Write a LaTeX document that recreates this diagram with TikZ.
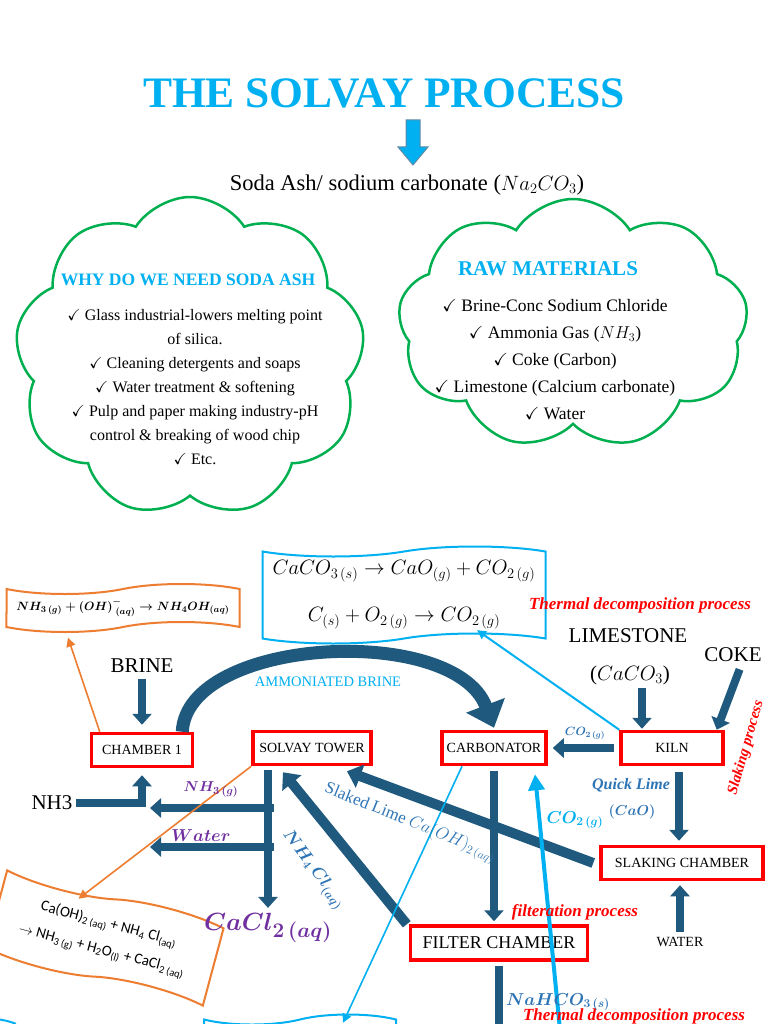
\documentclass[tikz,border=0pt]{standalone}
\usepackage{amssymb}
\usepackage{amsmath}
\usepackage{fontspec}
\setmainfont{Liberation Serif}
\newfontfamily\carlito{Carlito}
\usepackage{tikz}
\usetikzlibrary{positioning, shapes.symbols, arrows.meta}

\definecolor{skyblue}{HTML}{00B0F0}
\definecolor{deepblue}{HTML}{1F5A7E}
\definecolor{labelblue}{HTML}{2E75B6}
\definecolor{leafgreen}{HTML}{00B050}
\definecolor{plum}{HTML}{7030A0}
\definecolor{tangerine}{HTML}{ED7D31}

\begin{document}
\begin{tikzpicture}[x=1pt, y=-1pt,
    unit/.style={draw=red, line width=3.5pt, minimum height=33pt, inner sep=2pt, font=\fontsize{14}{16}\selectfont},
    flow/.style={draw=deepblue, line width=8pt, -{Triangle[width=19pt,length=11pt]}},
    wideflow/.style={flow, line width=10pt, -{Triangle[width=24pt,length=14pt]}},
    feed/.style={font=\fontsize{21}{24}\selectfont},
    note/.style={text=red, font=\fontsize{17}{19}\selectfont\bfseries\itshape},
    tag/.style={text=labelblue, font=\fontsize{14}{16}\selectfont\boldmath},
    puff/.style={cloud, cloud puffs=9, cloud puff arc=115, cloud ignores aspect, draw=leafgreen, line width=2.5pt},
    scroll/.style={tape, line width=2pt, tape bend height=10pt, inner sep=4pt}]
        \clip (0,0) rectangle (768,1024);
        \fill[white] (0,0) rectangle (768,1024);

        % Heading
        \node (title) [text=skyblue, font=\fontsize{43.5}{48}\selectfont\bfseries] at (384,93) {THE SOLVAY PROCESS};
        \node (soda) [font=\fontsize{22.5}{26}\selectfont] at (407,185) {Soda Ash/ sodium carbonate ($Na_2CO_3$)};
        \filldraw[fill=skyblue, draw=deepblue!70, line width=1pt] (406,120) -- (420,120) -- (420,147) -- (428,147) -- (413,165) -- (398,147) -- (406,147) -- cycle;

        % Clouds
        \node (whycloud) [puff, minimum width=350pt, minimum height=320pt] at (190,357) {};
        \node (whyhead) [text=skyblue, font=\fontsize{17.5}{20}\selectfont\bfseries] at (188,280) {WHY DO WE NEED SODA ASH};
        \node (whylist) [align=center, font=\fontsize{16}{24}\selectfont] at (195,387) {\checkmark\ Glass industrial-lowers melting point\\ of silica.\\ \checkmark\ Cleaning detergents and soaps\\ \checkmark\ Water treatment \& softening\\ \checkmark\ Pulp and paper making industry-pH\\ control \& breaking of wood chip\\ \checkmark\ Etc.};

        \node (rawcloud) [puff, minimum width=350pt, minimum height=250pt] at (573,324) {};
        \node (rawhead) [text=skyblue, font=\fontsize{21}{24}\selectfont\bfseries] at (548,269) {RAW MATERIALS};
        \node (rawlist) [align=center, font=\fontsize{17.5}{27}\selectfont] at (555,360) {\checkmark\ Brine-Conc Sodium Chloride\\ \checkmark\ Ammonia Gas ($NH_3$)\\ \checkmark\ Coke (Carbon)\\ \checkmark\ Limestone (Calcium carbonate)\\ \checkmark\ Water};

        % Reaction boxes
        \node (calcbox) [scroll, draw=skyblue, minimum width=283pt, minimum height=97pt, align=center, font=\fontsize{20.5}{47}\selectfont] at (404,595) {$CaCO_{3\,(s)} \rightarrow CaO_{(g)} + CO_{2\,(g)}$\\ $C_{(s)} + O_{2\,(g)} \rightarrow CO_{2\,(g)}$};
        \node (ammbox) [scroll, draw=tangerine, minimum width=233pt, minimum height=48pt, font=\fontsize{13}{15}\selectfont\boldmath] at (123,608) {$NH_{3\,(g)} + (OH)^-_{\;(aq)} \rightarrow NH_4OH_{(aq)}$};
        \node (regenbox) [scroll, draw=tangerine, rotate=-15, minimum width=224pt, minimum height=90pt, align=center, font=\carlito\fontsize{15}{27}\selectfont] at (105,938) {Ca(OH)\textsubscript{2 (aq)} + NH\textsubscript{4} Cl\textsubscript{(aq)}\\ $\rightarrow$ NH\textsubscript{3 (g)} + H\textsubscript{2}O\textsubscript{(l)} + CaCl\textsubscript{2 (aq)}};
        \node (leftbox) [scroll, draw=skyblue, minimum width=120pt, minimum height=95pt] at (-45,1066) {};
        \node (soakbox) [scroll, draw=skyblue, minimum width=192pt, minimum height=95pt] at (300,1062) {};

        % Units
        \node (chamber1) [unit, minimum width=101pt] at (142,750) {CHAMBER 1};
        \node (solvay) [unit, minimum width=118pt] at (312,748) {SOLVAY TOWER};
        \node (carbonator) [unit, minimum width=104pt] at (494,748) {CARBONATOR};
        \node (kiln) [unit, minimum width=102pt] at (672,748) {KILN};
        \node (slaking) [unit, minimum width=162pt] at (682,863) {SLAKING CHAMBER};
        \node (filter) [unit, minimum width=177pt, minimum height=34pt, font=\fontsize{18}{20}\selectfont] at (499,943) {FILTER CHAMBER};

        % Feeds
        \node (brine) [feed] at (142,666) {BRINE};
        \node (nh3) [feed] at (52,803) {NH3};
        \node (limestone) [feed] at (628,636) {LIMESTONE};
        \node (caco) [feed] at (630,675) {($CaCO_3$)};
        \node (coke) [feed] at (733,655) {COKE};
        \node (waterin) [font=\fontsize{14}{16}\selectfont] at (680,942) {WATER};
        \node (cacl) [text=plum, font=\fontsize{32}{36}\selectfont\boldmath] at (268,928) {$CaCl_{2\,(aq)}$};

        % Arrows
        \draw[flow, shorten <=3pt, shorten >=7pt] (brine) -- (chamber1);
        \draw[flow, shorten >=4pt] (nh3.east) -| ([yshift=-3pt]chamber1.south);
        \draw[flow, shorten >=1pt] ([xshift=12pt]caco.south) -- ([xshift=-30pt]kiln.north);
        \draw[flow, shorten <=4pt] ([xshift=8pt]coke.south) -- ([xshift=-8pt]kiln.north east);
        \draw[flow, shorten <=5pt, shorten >=5pt] (kiln) -- (carbonator);
        \draw[flow, shorten <=6pt, shorten >=4pt] ([xshift=7pt]kiln.south) -- ([xshift=7pt]kiln.south |- slaking.north);
        \draw[flow, shorten <=2pt, shorten >=4pt] (waterin.north) -- (waterin.north |- slaking.south);
        \draw[flow, shorten <=5pt, shorten >=3pt] (carbonator.south) -- (carbonator.south |- filter.north);
        \draw[wideflow] ([xshift=-6pt]slaking.west) -- ([xshift=35pt,yshift=-5pt]solvay.south);
        \draw[wideflow] ([xshift=-2pt]filter.north west) -- ([xshift=-29pt,yshift=-6pt]solvay.south);
        \draw[flow, shorten <=4pt, shorten >=2pt] (solvay.south -| cacl.north) -- (cacl.north);
        \coordinate (nhsplit) at (274,808);
        \coordinate (nhout) at (150,808);
        \coordinate (watersplit) at (274,847);
        \coordinate (waterout) at (150,847);
        \draw[flow] (nhsplit) -- (nhout);
        \draw[flow] (watersplit) -- (waterout);
        \draw[flow, shorten <=4pt] (filter.south) -- ++(0,80);
        \draw[deepblue, line width=13pt, -{Triangle[width=40pt,length=24pt]}] ([xshift=-12pt]chamber1.north east) .. controls +(5,-95) and +(-40,-105) .. ([yshift=2pt]carbonator.north);

        % Thin arrows
        \draw[skyblue, line width=2pt, -{Triangle[width=9pt,length=9pt]}] (kiln.north west) -- ([xshift=73pt,yshift=9pt]calcbox.south);
        \draw[skyblue, line width=1.6pt, -{Triangle[width=9pt,length=9pt]}] ([xshift=-32pt]carbonator.south) -- ([xshift=43pt,yshift=-4pt]soakbox.north);
        \coordinate (co2in) at (560,1030);
        \draw[skyblue, line width=4pt, -{Triangle[width=16pt,length=16pt]}] (co2in) -- ([xshift=41pt,yshift=-8pt]carbonator.south);
        \draw[tangerine, line width=1.6pt, -{Triangle[width=9pt,length=9pt]}] ([xshift=10pt]chamber1.north west) -- ([xshift=-55pt,yshift=-10pt]ammbox.south);
        \draw[tangerine, line width=1.6pt, -{Triangle[width=9pt,length=9pt]}] (solvay.south west) -- ([xshift=-37pt]regenbox.north);

        % Labels
        \node (ammonbrine) [text=skyblue, font=\fontsize{14.5}{16}\selectfont] at (328,682) {AMMONIATED BRINE};
        \node (thermaltop) [note] at (640,605) {Thermal decomposition process};
        \node (slakenote) [note, font=\fontsize{15}{17}\selectfont\bfseries\itshape, rotate=74] at (746,748) {Slaking process};
        \node (filternote) [note] at (575,912) {filteration process};
        \node (thermalbot) [note] at (634,1016) {Thermal decomposition process};
        \node (kilnco2) [tag, font=\fontsize{12}{14}\selectfont\boldmath] at (585,733) {$CO_{2\,(g)}$};
        \node (quick) [tag, font=\fontsize{16}{18}\selectfont\bfseries\itshape] at (631,785) {Quick Lime};
        \node (cao) [tag] at (632,812) {$(CaO)$};
        \node (co2up) [tag, text=skyblue, font=\fontsize{17}{19}\selectfont\boldmath] at (575,820) {$CO_{2\,(g)}$};
        \node (bicarb) [tag, font=\fontsize{17}{19}\selectfont\boldmath] at (558,1002) {$NaHCO_{3\,(s)}$};
        \node (slaked) [tag, font=\fontsize{17}{19}\selectfont, rotate=-22] at (410,823) {Slaked Lime $Ca(OH)_{2\,(aq)}$};
        \node (chloride) [tag, font=\fontsize{17}{19}\selectfont\boldmath, rotate=-53] at (313,870) {$NH_4\,Cl_{(aq)}$};
        \node (nhgas) [text=plum, font=\fontsize{15}{17}\selectfont\boldmath] at (211,789) {$NH_{3\,(g)}$};
        \node (waterlbl) [text=plum, font=\fontsize{16}{18}\selectfont\boldmath] at (201,836) {$Water$};
\end{tikzpicture}
\end{document}
